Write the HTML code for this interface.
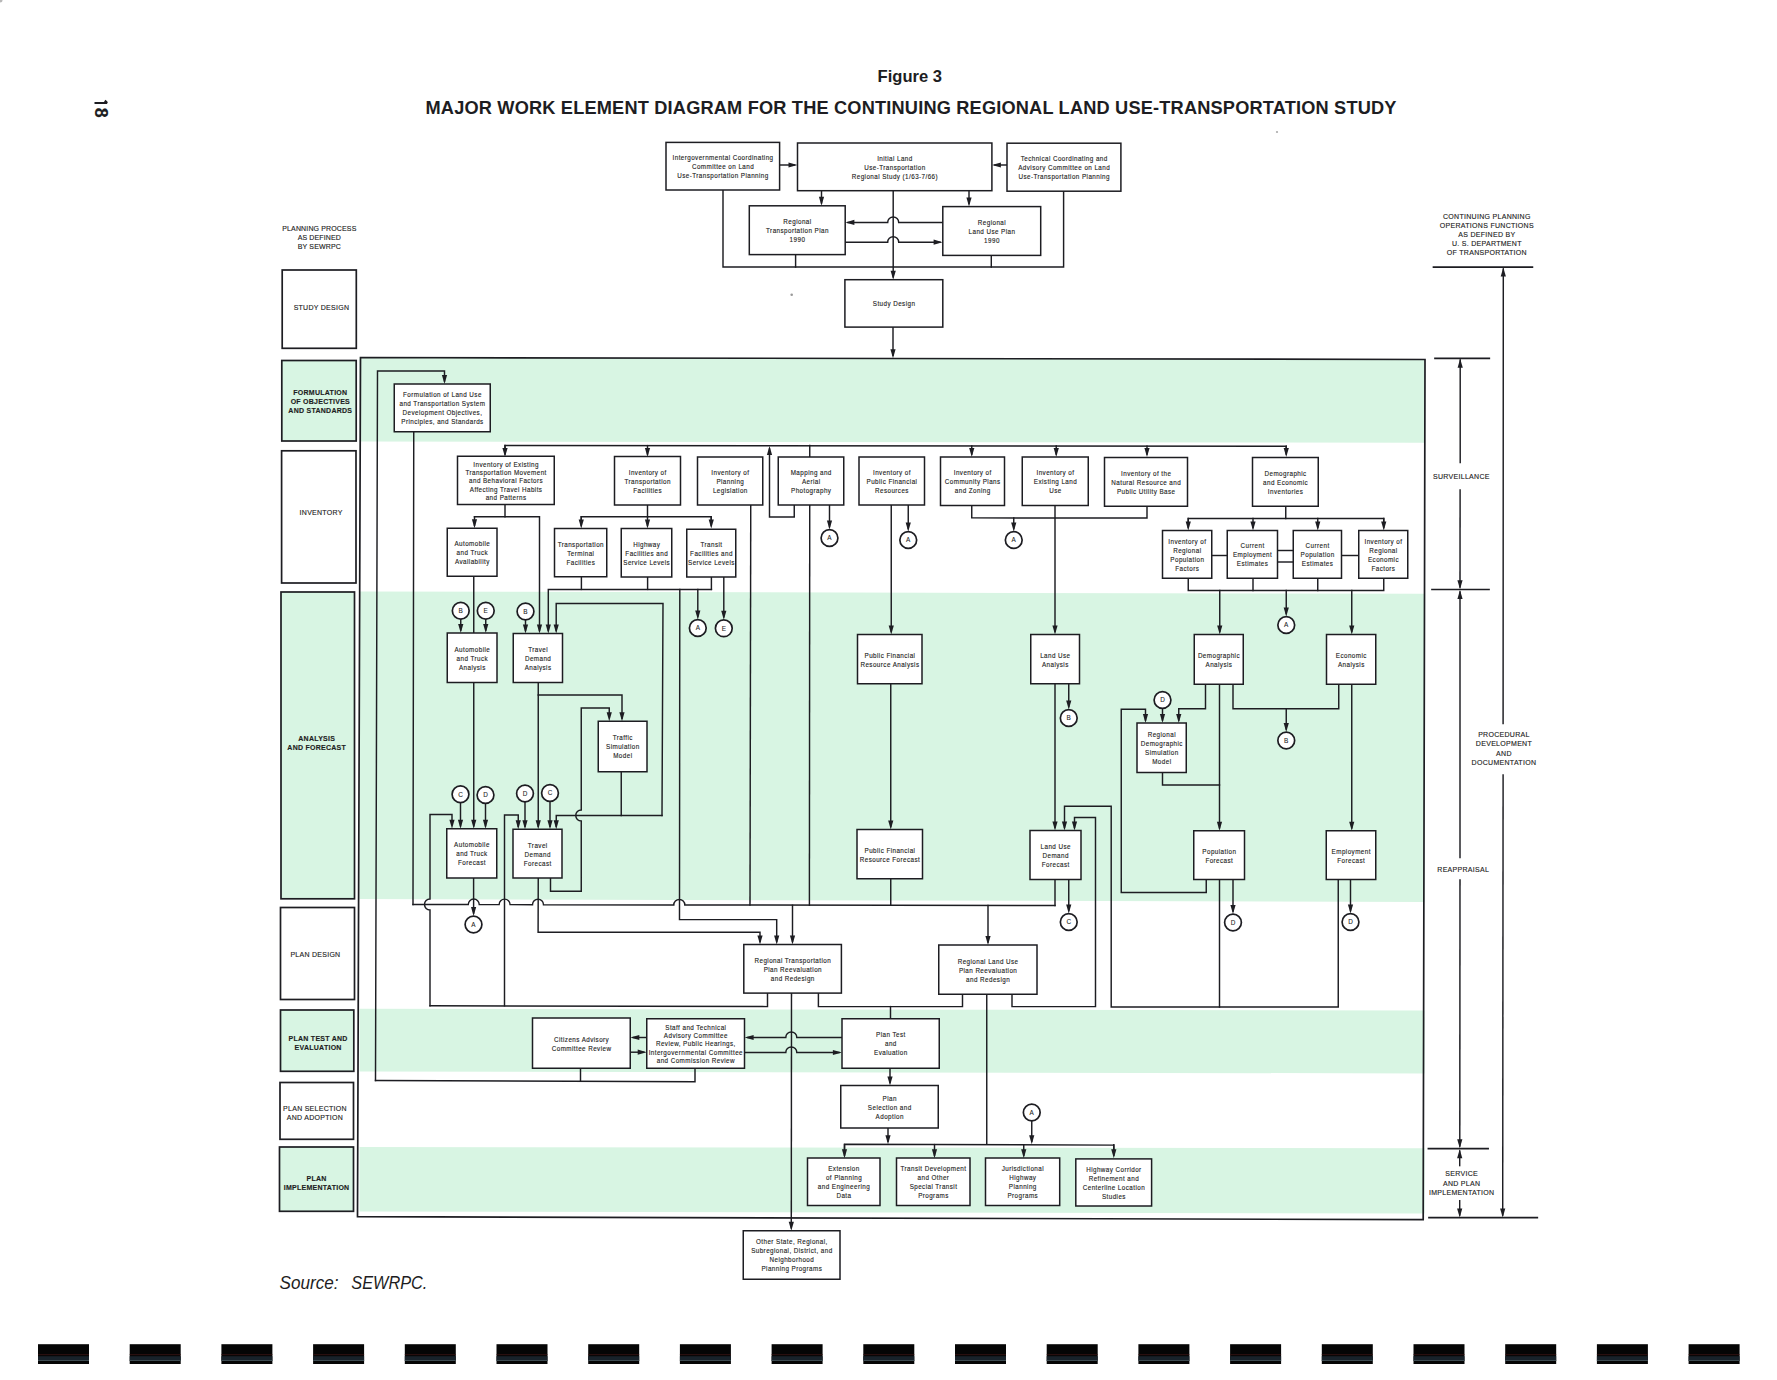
<!DOCTYPE html>
<html><head><meta charset="utf-8"><title>Figure 3</title>
<style>html,body{margin:0;padding:0;background:#fff;}svg{display:block;}
text{font-family:"Liberation Sans", sans-serif;stroke:#1d1d22;stroke-width:0.13px;}
text.ns{stroke:none;}</style></head>
<body>
<svg width="1777" height="1380" viewBox="0 0 1777 1380" font-family="Liberation Sans, sans-serif" fill="#1d1d22">
<rect width="1777" height="1380" fill="#fff"/>
<circle cx="0" cy="0" r="2.5" fill="#888" opacity="0.6"/>
<circle cx="791.7" cy="294.8" r="1.3" fill="#999"/>
<circle cx="1277" cy="132" r="1.1" fill="#aaa"/>
<path d="M94.5 103 L107.2 103 M107.2 103 L104.8 100.6" stroke="#1d1d22" stroke-width="2.2" fill="none"/>
<text x="0" y="0" font-size="18" font-weight="bold" transform="translate(95.3,112.8) rotate(90)" text-anchor="middle">8</text>
<text x="877.6" y="82.3" class="ns" font-size="16.6" font-weight="bold" textLength="64.4" lengthAdjust="spacingAndGlyphs">Figure 3</text>
<text x="425.5" y="113.9" class="ns" font-size="18.2" font-weight="bold" textLength="971" lengthAdjust="spacing">MAJOR WORK ELEMENT DIAGRAM FOR THE CONTINUING REGIONAL LAND USE-TRANSPORTATION STUDY</text>
<path d="M359.5 357.5 L1424.5 359.5 L1424.5 442.8 L359.5 441.5 Z" fill="#d8f5e3"/>
<path d="M359.5 591.5 L1424.5 593.8 L1424.5 902 L359.5 899 Z" fill="#d8f5e3"/>
<path d="M359.5 1008.8 L1424.5 1010.5 L1424.5 1073.4 L359.5 1071.5 Z" fill="#d8f5e3"/>
<path d="M359.5 1147 L1424.5 1148.3 L1424.5 1213.5 L359.5 1211.5 Z" fill="#d8f5e3"/>
<path d="M360.5 357.5 L1425 359.5 L1423.2 1219.7 L357.5 1216.6 Z" fill="none" stroke="#1d1d22" stroke-width="1.7"/>
<text x="319.37" y="231.22" font-size="7" letter-spacing="0.14" text-anchor="middle">PLANNING PROCESS</text>
<text x="319.37" y="240.22" font-size="7" letter-spacing="0.14" text-anchor="middle">AS DEFINED</text>
<text x="319.37" y="249.22" font-size="7" letter-spacing="0.14" text-anchor="middle">BY SEWRPC</text>
<rect x="282.2" y="270" width="74.1" height="78.3" fill="#fff" stroke="#1d1d22" stroke-width="1.7"/>
<text x="321.44" y="309.62" font-size="7" letter-spacing="0.27" text-anchor="middle">STUDY DESIGN</text>
<rect x="281.8" y="360.5" width="74.4" height="80.5" fill="#d8f5e3" stroke="#1d1d22" stroke-width="1.7"/>
<text x="320.33" y="394.72" font-size="7" font-weight="bold" letter-spacing="0.26" text-anchor="middle">FORMULATION</text>
<text x="320.33" y="403.92" font-size="7" font-weight="bold" letter-spacing="0.26" text-anchor="middle">OF OBJECTIVES</text>
<text x="320.33" y="413.12" font-size="7" font-weight="bold" letter-spacing="0.26" text-anchor="middle">AND STANDARDS</text>
<rect x="281.6" y="450.8" width="74.4" height="132.2" fill="#fff" stroke="#1d1d22" stroke-width="1.7"/>
<text x="321.13" y="514.72" font-size="7" letter-spacing="0.27" text-anchor="middle">INVENTORY</text>
<rect x="281" y="592" width="73.5" height="306.8" fill="#d8f5e3" stroke="#1d1d22" stroke-width="1.7"/>
<text x="316.73" y="741.12" font-size="7" font-weight="bold" letter-spacing="0.26" text-anchor="middle">ANALYSIS</text>
<text x="316.73" y="750.32" font-size="7" font-weight="bold" letter-spacing="0.26" text-anchor="middle">AND FORECAST</text>
<rect x="280.5" y="907.5" width="74" height="92" fill="#fff" stroke="#1d1d22" stroke-width="1.7"/>
<text x="315.44" y="957.22" font-size="7" letter-spacing="0.27" text-anchor="middle">PLAN DESIGN</text>
<rect x="280.5" y="1010" width="73.3" height="61.3" fill="#d8f5e3" stroke="#1d1d22" stroke-width="1.7"/>
<text x="318.13" y="1040.62" font-size="7" font-weight="bold" letter-spacing="0.26" text-anchor="middle">PLAN TEST AND</text>
<text x="318.13" y="1049.82" font-size="7" font-weight="bold" letter-spacing="0.26" text-anchor="middle">EVALUATION</text>
<rect x="280" y="1082.5" width="73.5" height="56.8" fill="#fff" stroke="#1d1d22" stroke-width="1.7"/>
<text x="314.94" y="1110.82" font-size="7" letter-spacing="0.27" text-anchor="middle">PLAN SELECTION</text>
<text x="314.94" y="1120.02" font-size="7" letter-spacing="0.27" text-anchor="middle">AND ADOPTION</text>
<rect x="279.5" y="1147" width="74" height="64.3" fill="#d8f5e3" stroke="#1d1d22" stroke-width="1.7"/>
<text x="316.63" y="1180.72" font-size="7" font-weight="bold" letter-spacing="0.26" text-anchor="middle">PLAN</text>
<text x="316.63" y="1189.92" font-size="7" font-weight="bold" letter-spacing="0.26" text-anchor="middle">IMPLEMENTATION</text>
<text x="1486.85" y="219.12" font-size="7" letter-spacing="0.3" text-anchor="middle">CONTINUING PLANNING</text>
<text x="1486.85" y="228.17" font-size="7" letter-spacing="0.3" text-anchor="middle">OPERATIONS FUNCTIONS</text>
<text x="1486.85" y="237.22" font-size="7" letter-spacing="0.3" text-anchor="middle">AS DEFINED BY</text>
<text x="1486.85" y="246.27" font-size="7" letter-spacing="0.3" text-anchor="middle">U. S. DEPARTMENT</text>
<text x="1486.85" y="255.32" font-size="7" letter-spacing="0.3" text-anchor="middle">OF TRANSPORTATION</text>
<path d="M1433.5 267.2 L1532.4 267.2" fill="none" stroke="#1d1d22" stroke-width="1.7" stroke-linejoin="miter" stroke-linecap="square"/>
<path d="M1503.3 269 L1503.1 723.5" fill="none" stroke="#1d1d22" stroke-width="1.45" stroke-linejoin="miter" stroke-linecap="square"/>
<path d="M1503.1 775 L1502.7 1215" fill="none" stroke="#1d1d22" stroke-width="1.45" stroke-linejoin="miter" stroke-linecap="square"/>
<path d="M1503.3 267.5 L1500.7 276.5 L1505.9 276.5 Z" fill="#1d1d22"/>
<path d="M1502.7 1217.5 L1500.1 1208.5 L1505.3 1208.5 Z" fill="#1d1d22"/>
<text x="1503.95" y="737.37" font-size="7" letter-spacing="0.3" text-anchor="middle">PROCEDURAL</text>
<text x="1503.95" y="746.47" font-size="7" letter-spacing="0.3" text-anchor="middle">DEVELOPMENT</text>
<text x="1503.95" y="755.57" font-size="7" letter-spacing="0.3" text-anchor="middle">AND</text>
<text x="1503.95" y="764.67" font-size="7" letter-spacing="0.3" text-anchor="middle">DOCUMENTATION</text>
<path d="M1435 358.3 L1489.3 358.3" fill="none" stroke="#1d1d22" stroke-width="1.7" stroke-linejoin="miter" stroke-linecap="square"/>
<path d="M1460.2 360 L1460.2 462.5" fill="none" stroke="#1d1d22" stroke-width="1.45" stroke-linejoin="miter" stroke-linecap="square"/>
<path d="M1460.1 490 L1460 587" fill="none" stroke="#1d1d22" stroke-width="1.45" stroke-linejoin="miter" stroke-linecap="square"/>
<path d="M1460.2 358.8 L1457.6 367.8 L1462.8 367.8 Z" fill="#1d1d22"/>
<path d="M1460 589.3 L1457.4 580.3 L1462.6 580.3 Z" fill="#1d1d22"/>
<text x="1461.35" y="479.42" font-size="7" letter-spacing="0.3" text-anchor="middle">SURVEILLANCE</text>
<path d="M1432 589.5 L1489 589.5" fill="none" stroke="#1d1d22" stroke-width="1.7" stroke-linejoin="miter" stroke-linecap="square"/>
<path d="M1460 592 L1460 857.5" fill="none" stroke="#1d1d22" stroke-width="1.45" stroke-linejoin="miter" stroke-linecap="square"/>
<path d="M1460 880 L1459.8 1146" fill="none" stroke="#1d1d22" stroke-width="1.45" stroke-linejoin="miter" stroke-linecap="square"/>
<path d="M1460 590 L1457.4 599 L1462.6 599 Z" fill="#1d1d22"/>
<path d="M1459.8 1148.3 L1457.2 1139.3 L1462.4 1139.3 Z" fill="#1d1d22"/>
<text x="1463.25" y="871.62" font-size="7" letter-spacing="0.3" text-anchor="middle">REAPPRAISAL</text>
<path d="M1428.4 1148.6 L1488.1 1148.6" fill="none" stroke="#1d1d22" stroke-width="1.7" stroke-linejoin="miter" stroke-linecap="square"/>
<path d="M1459.7 1151 L1459.7 1165.6" fill="none" stroke="#1d1d22" stroke-width="1.45" stroke-linejoin="miter" stroke-linecap="square"/>
<path d="M1459.7 1200.7 L1459.7 1215" fill="none" stroke="#1d1d22" stroke-width="1.45" stroke-linejoin="miter" stroke-linecap="square"/>
<path d="M1459.7 1149.2 L1457.1 1158.2 L1462.3 1158.2 Z" fill="#1d1d22"/>
<path d="M1459.7 1217.5 L1457.1 1208.5 L1462.3 1208.5 Z" fill="#1d1d22"/>
<text x="1461.65" y="1176.47" font-size="7" letter-spacing="0.3" text-anchor="middle">SERVICE</text>
<text x="1461.65" y="1185.52" font-size="7" letter-spacing="0.3" text-anchor="middle">AND PLAN</text>
<text x="1461.65" y="1194.57" font-size="7" letter-spacing="0.3" text-anchor="middle">IMPLEMENTATION</text>
<path d="M1429 1217.7 L1537.3 1217.7" fill="none" stroke="#1d1d22" stroke-width="1.7" stroke-linejoin="miter" stroke-linecap="square"/>
<path d="M723 190 L723 267 L1063.6 267 L1063.6 191" fill="none" stroke="#1d1d22" stroke-width="1.45" stroke-linejoin="miter" stroke-linecap="square"/>
<path d="M795.6 254.6 L795.6 267" fill="none" stroke="#1d1d22" stroke-width="1.45" stroke-linejoin="miter" stroke-linecap="square"/>
<path d="M991.3 255.4 L991.3 267" fill="none" stroke="#1d1d22" stroke-width="1.45" stroke-linejoin="miter" stroke-linecap="square"/>
<path d="M779.6 165 L794.5 165" fill="none" stroke="#1d1d22" stroke-width="1.45" stroke-linejoin="miter" stroke-linecap="square"/>
<path d="M797.5 165 L788.5 162.4 L788.5 167.6 Z" fill="#1d1d22"/>
<path d="M1007 165 L994.9 165" fill="none" stroke="#1d1d22" stroke-width="1.45" stroke-linejoin="miter" stroke-linecap="square"/>
<path d="M991.9 165 L1000.9 162.4 L1000.9 167.6 Z" fill="#1d1d22"/>
<path d="M821.5 190.7 L821.5 202.8" fill="none" stroke="#1d1d22" stroke-width="1.45" stroke-linejoin="miter" stroke-linecap="square"/>
<path d="M821.5 205.8 L818.9 196.8 L824.1 196.8 Z" fill="#1d1d22"/>
<path d="M969 190.7 L969 203.6" fill="none" stroke="#1d1d22" stroke-width="1.45" stroke-linejoin="miter" stroke-linecap="square"/>
<path d="M969 206.6 L966.4 197.6 L971.6 197.6 Z" fill="#1d1d22"/>
<path d="M893.2 190.7 L893.2 276.7" fill="none" stroke="#1d1d22" stroke-width="1.45" stroke-linejoin="miter" stroke-linecap="square"/>
<path d="M893.2 279.7 L890.6 270.7 L895.8 270.7 Z" fill="#1d1d22"/>
<path d="M848 222.4 L887.7 222.4 A5.5 5.5 0 0 1 898.7 222.4 L942.8 222.4" fill="none" stroke="#1d1d22" stroke-width="1.45" stroke-linecap="square"/>
<path d="M845.4 222.4 L854.4 219.8 L854.4 225 Z" fill="#1d1d22"/>
<path d="M845.2 242.2 L887.7 242.2 A5.5 5.5 0 0 1 898.7 242.2 L940 242.2" fill="none" stroke="#1d1d22" stroke-width="1.45" stroke-linecap="square"/>
<path d="M942.6 242.2 L933.6 239.6 L933.6 244.8 Z" fill="#1d1d22"/>
<path d="M893 327.1 L893 355.3" fill="none" stroke="#1d1d22" stroke-width="1.45" stroke-linejoin="miter" stroke-linecap="square"/>
<path d="M893 358.3 L890.4 349.3 L895.6 349.3 Z" fill="#1d1d22"/>
<rect x="666" y="142.4" width="113.6" height="47.6" fill="#fff" stroke="#1d1d22" stroke-width="1.5"/>
<text transform="translate(723.01 160.12) scale(0.9 1)" font-size="7" letter-spacing="0.48" text-anchor="middle">Intergovernmental Coordinating</text>
<text transform="translate(723.01 169.12) scale(0.9 1)" font-size="7" letter-spacing="0.48" text-anchor="middle">Committee on Land</text>
<text transform="translate(723.01 178.12) scale(0.9 1)" font-size="7" letter-spacing="0.48" text-anchor="middle">Use-Transportation Planning</text>
<rect x="797.5" y="143" width="194.4" height="47.7" fill="#fff" stroke="#1d1d22" stroke-width="1.5"/>
<text transform="translate(894.92 160.77) scale(0.9 1)" font-size="7" letter-spacing="0.48" text-anchor="middle">Initial Land</text>
<text transform="translate(894.92 169.77) scale(0.9 1)" font-size="7" letter-spacing="0.48" text-anchor="middle">Use-Transportation</text>
<text transform="translate(894.92 178.77) scale(0.9 1)" font-size="7" letter-spacing="0.48" text-anchor="middle">Regional Study (1/63-7/66)</text>
<rect x="1007" y="143.2" width="113.9" height="48" fill="#fff" stroke="#1d1d22" stroke-width="1.5"/>
<text transform="translate(1064.16 161.12) scale(0.9 1)" font-size="7" letter-spacing="0.48" text-anchor="middle">Technical Coordinating and</text>
<text transform="translate(1064.16 170.12) scale(0.9 1)" font-size="7" letter-spacing="0.48" text-anchor="middle">Advisory Committee on Land</text>
<text transform="translate(1064.16 179.12) scale(0.9 1)" font-size="7" letter-spacing="0.48" text-anchor="middle">Use-Transportation Planning</text>
<rect x="749.3" y="205.8" width="95.9" height="48.8" fill="#fff" stroke="#1d1d22" stroke-width="1.5"/>
<text transform="translate(797.47 224.12) scale(0.9 1)" font-size="7" letter-spacing="0.48" text-anchor="middle">Regional</text>
<text transform="translate(797.47 233.12) scale(0.9 1)" font-size="7" letter-spacing="0.48" text-anchor="middle">Transportation Plan</text>
<text transform="translate(797.47 242.12) scale(0.9 1)" font-size="7" letter-spacing="0.48" text-anchor="middle">1990</text>
<rect x="942.8" y="206.6" width="97.9" height="48.8" fill="#fff" stroke="#1d1d22" stroke-width="1.5"/>
<text transform="translate(991.97 224.92) scale(0.9 1)" font-size="7" letter-spacing="0.48" text-anchor="middle">Regional</text>
<text transform="translate(991.97 233.92) scale(0.9 1)" font-size="7" letter-spacing="0.48" text-anchor="middle">Land Use Plan</text>
<text transform="translate(991.97 242.92) scale(0.9 1)" font-size="7" letter-spacing="0.48" text-anchor="middle">1990</text>
<rect x="844.9" y="279.7" width="97.9" height="47.4" fill="#fff" stroke="#1d1d22" stroke-width="1.5"/>
<text transform="translate(894.06 306.32) scale(0.9 1)" font-size="7" letter-spacing="0.48" text-anchor="middle">Study Design</text>
<path d="M375.5 1080.5 L377.5 371 L444.5 371 L444.5 381" fill="none" stroke="#1d1d22" stroke-width="1.45" stroke-linejoin="miter" stroke-linecap="square"/>
<path d="M444.5 384 L441.9 375 L447.1 375 Z" fill="#1d1d22"/>
<path d="M375.5 1080.5 L695 1081.7 L695 1068.3" fill="none" stroke="#1d1d22" stroke-width="1.45" stroke-linejoin="miter" stroke-linecap="square"/>
<path d="M580.5 1081 L580.5 1068.3" fill="none" stroke="#1d1d22" stroke-width="1.45" stroke-linejoin="miter" stroke-linecap="square"/>
<path d="M413.75 431.75 L413 904.5" fill="none" stroke="#1d1d22" stroke-width="1.45" stroke-linejoin="miter" stroke-linecap="square"/>
<path d="M413 904.5 L468.25 904.59 A5.5 5.5 0 0 1 479.25 904.59 L499.1 904.64 A5.5 5.5 0 0 1 510.1 904.64 L532.5 904.69 A5.5 5.5 0 0 1 543.5 904.69 L673.8 904.91 A5.5 5.5 0 0 1 684.8 904.91 L1055 905.5" fill="none" stroke="#1d1d22" stroke-width="1.45" stroke-linecap="square"/>
<path d="M1055 879.5 L1055 905.5" fill="none" stroke="#1d1d22" stroke-width="1.45" stroke-linejoin="miter" stroke-linecap="square"/>
<path d="M792.5 905.3 L792.5 941.5" fill="none" stroke="#1d1d22" stroke-width="1.45" stroke-linejoin="miter" stroke-linecap="square"/>
<path d="M792.5 944.5 L789.9 935.5 L795.1 935.5 Z" fill="#1d1d22"/>
<path d="M988 905.5 L988 942" fill="none" stroke="#1d1d22" stroke-width="1.45" stroke-linejoin="miter" stroke-linecap="square"/>
<path d="M988 945 L985.4 936 L990.6 936 Z" fill="#1d1d22"/>
<path d="M505 450 L505 445.5 L1286.25 446.3 L1286.25 450" fill="none" stroke="#1d1d22" stroke-width="1.45" stroke-linejoin="miter" stroke-linecap="square"/>
<path d="M505 445.5 L505 454" fill="none" stroke="#1d1d22" stroke-width="1.45" stroke-linejoin="miter" stroke-linecap="square"/>
<path d="M505 457 L502.4 448 L507.6 448 Z" fill="#1d1d22"/>
<path d="M647.5 445.65 L647.5 454" fill="none" stroke="#1d1d22" stroke-width="1.45" stroke-linejoin="miter" stroke-linecap="square"/>
<path d="M647.5 457 L644.9 448 L650.1 448 Z" fill="#1d1d22"/>
<path d="M971.75 445.98 L971.75 454" fill="none" stroke="#1d1d22" stroke-width="1.45" stroke-linejoin="miter" stroke-linecap="square"/>
<path d="M971.75 457 L969.15 448 L974.35 448 Z" fill="#1d1d22"/>
<path d="M1056.25 446.06 L1056.25 454" fill="none" stroke="#1d1d22" stroke-width="1.45" stroke-linejoin="miter" stroke-linecap="square"/>
<path d="M1056.25 457 L1053.65 448 L1058.85 448 Z" fill="#1d1d22"/>
<path d="M1147 446.16 L1147 454" fill="none" stroke="#1d1d22" stroke-width="1.45" stroke-linejoin="miter" stroke-linecap="square"/>
<path d="M1147 457 L1144.4 448 L1149.6 448 Z" fill="#1d1d22"/>
<path d="M1286.25 446.3 L1286.25 454" fill="none" stroke="#1d1d22" stroke-width="1.45" stroke-linejoin="miter" stroke-linecap="square"/>
<path d="M1286.25 457 L1283.65 448 L1288.85 448 Z" fill="#1d1d22"/>
<path d="M809.75 445.5 L809.75 457" fill="none" stroke="#1d1d22" stroke-width="1.45" stroke-linejoin="miter" stroke-linecap="square"/>
<path d="M794.25 505 L794.25 517 L769.5 517 L769.5 449" fill="none" stroke="#1d1d22" stroke-width="1.45" stroke-linejoin="miter" stroke-linecap="square"/>
<path d="M769.5 446 L766.9 455 L772.1 455 Z" fill="#1d1d22"/>
<path d="M505 504.5 L505 516.75" fill="none" stroke="#1d1d22" stroke-width="1.45" stroke-linejoin="miter" stroke-linecap="square"/>
<path d="M474.5 516.75 L474.5 525.25" fill="none" stroke="#1d1d22" stroke-width="1.45" stroke-linejoin="miter" stroke-linecap="square"/>
<path d="M474.5 528.25 L471.9 519.25 L477.1 519.25 Z" fill="#1d1d22"/>
<path d="M474.5 516.75 L539.5 516.75 L539.5 630.5" fill="none" stroke="#1d1d22" stroke-width="1.45" stroke-linejoin="miter" stroke-linecap="square"/>
<path d="M539.5 633.5 L536.9 624.5 L542.1 624.5 Z" fill="#1d1d22"/>
<path d="M473.75 576.25 L473.75 633" fill="none" stroke="#1d1d22" stroke-width="1.45" stroke-linejoin="miter" stroke-linecap="square"/>
<path d="M647.5 505 L647.5 516.75" fill="none" stroke="#1d1d22" stroke-width="1.45" stroke-linejoin="miter" stroke-linecap="square"/>
<path d="M581.25 520 L581.25 516.75 L711.25 516.75 L711.25 520" fill="none" stroke="#1d1d22" stroke-width="1.45" stroke-linejoin="miter" stroke-linecap="square"/>
<path d="M581.25 516.75 L581.25 525.5" fill="none" stroke="#1d1d22" stroke-width="1.45" stroke-linejoin="miter" stroke-linecap="square"/>
<path d="M581.25 528.5 L578.65 519.5 L583.85 519.5 Z" fill="#1d1d22"/>
<path d="M647.5 516.75 L647.5 525.5" fill="none" stroke="#1d1d22" stroke-width="1.45" stroke-linejoin="miter" stroke-linecap="square"/>
<path d="M647.5 528.5 L644.9 519.5 L650.1 519.5 Z" fill="#1d1d22"/>
<path d="M711.25 516.75 L711.25 525.5" fill="none" stroke="#1d1d22" stroke-width="1.45" stroke-linejoin="miter" stroke-linecap="square"/>
<path d="M711.25 528.5 L708.65 519.5 L713.85 519.5 Z" fill="#1d1d22"/>
<path d="M581.4 576.75 L581.4 589.4" fill="none" stroke="#1d1d22" stroke-width="1.45" stroke-linejoin="miter" stroke-linecap="square"/>
<path d="M647.6 577 L647.6 589.4" fill="none" stroke="#1d1d22" stroke-width="1.45" stroke-linejoin="miter" stroke-linecap="square"/>
<path d="M711.4 577 L711.4 589.4" fill="none" stroke="#1d1d22" stroke-width="1.45" stroke-linejoin="miter" stroke-linecap="square"/>
<path d="M711.4 589.4 L548.3 589.4 L548.3 630.5" fill="none" stroke="#1d1d22" stroke-width="1.45" stroke-linejoin="miter" stroke-linecap="square"/>
<path d="M548.3 633.5 L545.7 624.5 L550.9 624.5 Z" fill="#1d1d22"/>
<path d="M697.8 589.4 L697.8 616.6" fill="none" stroke="#1d1d22" stroke-width="1.45" stroke-linejoin="miter" stroke-linecap="square"/>
<path d="M697.8 619.6 L695.2 610.6 L700.4 610.6 Z" fill="#1d1d22"/>
<path d="M723.8 577 L723.8 616.8" fill="none" stroke="#1d1d22" stroke-width="1.45" stroke-linejoin="miter" stroke-linecap="square"/>
<path d="M723.8 619.8 L721.2 610.8 L726.4 610.8 Z" fill="#1d1d22"/>
<path d="M679.8 589.4 L679.5 919.6 L776.7 919.6 L776.7 941.5" fill="none" stroke="#1d1d22" stroke-width="1.45" stroke-linejoin="miter" stroke-linecap="square"/>
<path d="M776.7 944.5 L774.1 935.5 L779.3 935.5 Z" fill="#1d1d22"/>
<path d="M662 815.5 L663 603.4 L556.2 603.4 L556.2 630.5" fill="none" stroke="#1d1d22" stroke-width="1.45" stroke-linejoin="miter" stroke-linecap="square"/>
<path d="M556.2 633.5 L553.6 624.5 L558.8 624.5 Z" fill="#1d1d22"/>
<path d="M662 815.5 L556.25 815.5 L556.25 826.25" fill="none" stroke="#1d1d22" stroke-width="1.45" stroke-linejoin="miter" stroke-linecap="square"/>
<path d="M556.25 829.25 L553.65 820.25 L558.85 820.25 Z" fill="#1d1d22"/>
<path d="M550.5 878 L550.5 891.25 L581.25 891.25 L581.25 821 A5.5 5.5 0 0 1 581.25 810 L581.25 708 L609.25 708 L609.25 716" fill="none" stroke="#1d1d22" stroke-width="1.45" stroke-linecap="square"/>
<path d="M609.25 721.25 L606.65 712.25 L611.85 712.25 Z" fill="#1d1d22"/>
<path d="M538.25 682.5 L538.25 826.25" fill="none" stroke="#1d1d22" stroke-width="1.45" stroke-linejoin="miter" stroke-linecap="square"/>
<path d="M538.25 829.25 L535.65 820.25 L540.85 820.25 Z" fill="#1d1d22"/>
<path d="M538.25 695 L622 695 L622 718.25" fill="none" stroke="#1d1d22" stroke-width="1.45" stroke-linejoin="miter" stroke-linecap="square"/>
<path d="M622 721.25 L619.4 712.25 L624.6 712.25 Z" fill="#1d1d22"/>
<path d="M621.25 771.75 L621.25 815.5" fill="none" stroke="#1d1d22" stroke-width="1.45" stroke-linejoin="miter" stroke-linecap="square"/>
<path d="M460.75 619.2 L460.75 630" fill="none" stroke="#1d1d22" stroke-width="1.45" stroke-linejoin="miter" stroke-linecap="square"/>
<path d="M460.75 633 L458.15 624 L463.35 624 Z" fill="#1d1d22"/>
<path d="M485.75 619.2 L485.75 630" fill="none" stroke="#1d1d22" stroke-width="1.45" stroke-linejoin="miter" stroke-linecap="square"/>
<path d="M485.75 633 L483.15 624 L488.35 624 Z" fill="#1d1d22"/>
<path d="M525.5 620 L525.5 630.5" fill="none" stroke="#1d1d22" stroke-width="1.45" stroke-linejoin="miter" stroke-linecap="square"/>
<path d="M525.5 633.5 L522.9 624.5 L528.1 624.5 Z" fill="#1d1d22"/>
<path d="M473.75 682.5 L473.75 825.75" fill="none" stroke="#1d1d22" stroke-width="1.45" stroke-linejoin="miter" stroke-linecap="square"/>
<path d="M473.75 828.75 L471.15 819.75 L476.35 819.75 Z" fill="#1d1d22"/>
<path d="M460.5 802.7 L460.5 825.75" fill="none" stroke="#1d1d22" stroke-width="1.45" stroke-linejoin="miter" stroke-linecap="square"/>
<path d="M460.5 828.75 L457.9 819.75 L463.1 819.75 Z" fill="#1d1d22"/>
<path d="M485.5 803.4 L485.5 825.75" fill="none" stroke="#1d1d22" stroke-width="1.45" stroke-linejoin="miter" stroke-linecap="square"/>
<path d="M485.5 828.75 L482.9 819.75 L488.1 819.75 Z" fill="#1d1d22"/>
<path d="M525 802 L525 826.25" fill="none" stroke="#1d1d22" stroke-width="1.45" stroke-linejoin="miter" stroke-linecap="square"/>
<path d="M525 829.25 L522.4 820.25 L527.6 820.25 Z" fill="#1d1d22"/>
<path d="M550 801.4 L550 826.25" fill="none" stroke="#1d1d22" stroke-width="1.45" stroke-linejoin="miter" stroke-linecap="square"/>
<path d="M550 829.25 L547.4 820.25 L552.6 820.25 Z" fill="#1d1d22"/>
<path d="M430 1005.8 L430 910 A5.5 5.5 0 0 1 430 899 L430 814.5 L452 814.5 L452 823" fill="none" stroke="#1d1d22" stroke-width="1.45" stroke-linecap="square"/>
<path d="M452 828.75 L449.4 819.75 L454.6 819.75 Z" fill="#1d1d22"/>
<path d="M473.6 878 L473.6 913" fill="none" stroke="#1d1d22" stroke-width="1.45" stroke-linejoin="miter" stroke-linecap="square"/>
<path d="M473.6 916 L471 907 L476.2 907 Z" fill="#1d1d22"/>
<path d="M504.5 1005.8 L504.5 815 L518.25 815 L518.25 826.25" fill="none" stroke="#1d1d22" stroke-width="1.45" stroke-linejoin="miter" stroke-linecap="square"/>
<path d="M518.25 829.25 L515.65 820.25 L520.85 820.25 Z" fill="#1d1d22"/>
<path d="M538.25 878 L538.1 932.3 L760 932.3 L760 941.5" fill="none" stroke="#1d1d22" stroke-width="1.45" stroke-linejoin="miter" stroke-linecap="square"/>
<path d="M760 944.5 L757.4 935.5 L762.6 935.5 Z" fill="#1d1d22"/>
<path d="M430 1005.8 L767.5 1006.6 L767.5 993.1" fill="none" stroke="#1d1d22" stroke-width="1.45" stroke-linejoin="miter" stroke-linecap="square"/>
<path d="M818.4 993.1 L818.4 1006.6 L962.5 1006.6 L962.5 994.2" fill="none" stroke="#1d1d22" stroke-width="1.45" stroke-linejoin="miter" stroke-linecap="square"/>
<path d="M890.5 1006.6 L890.5 1018.7" fill="none" stroke="#1d1d22" stroke-width="1.45" stroke-linejoin="miter" stroke-linecap="square"/>
<path d="M791.5 993.1 L791.3 1227.7" fill="none" stroke="#1d1d22" stroke-width="1.45" stroke-linejoin="miter" stroke-linecap="square"/>
<path d="M791.3 1230.7 L788.7 1221.7 L793.9 1221.7 Z" fill="#1d1d22"/>
<path d="M986.75 994.2 L986.75 1144.3" fill="none" stroke="#1d1d22" stroke-width="1.45" stroke-linejoin="miter" stroke-linecap="square"/>
<path d="M1012 994.2 L1012 1006.6 L1095.5 1006.6 L1095.5 817.5 L1074.5 817.5 L1074.5 827.5" fill="none" stroke="#1d1d22" stroke-width="1.45" stroke-linejoin="miter" stroke-linecap="square"/>
<path d="M1074.5 830.5 L1071.9 821.5 L1077.1 821.5 Z" fill="#1d1d22"/>
<path d="M748 1037.5 L785.8 1037.5 A5.5 5.5 0 0 1 796.8 1037.5 L842 1037.5" fill="none" stroke="#1d1d22" stroke-width="1.45" stroke-linecap="square"/>
<path d="M744.6 1037.5 L753.6 1034.9 L753.6 1040.1 Z" fill="#1d1d22"/>
<path d="M744.5 1052.5 L785.8 1052.5 A5.5 5.5 0 0 1 796.8 1052.5 L839 1052.5" fill="none" stroke="#1d1d22" stroke-width="1.45" stroke-linecap="square"/>
<path d="M841.9 1052.5 L832.9 1049.9 L832.9 1055.1 Z" fill="#1d1d22"/>
<path d="M646.75 1037.5 L633.3 1037.5" fill="none" stroke="#1d1d22" stroke-width="1.45" stroke-linejoin="miter" stroke-linecap="square"/>
<path d="M630.3 1037.5 L639.3 1034.9 L639.3 1040.1 Z" fill="#1d1d22"/>
<path d="M630.25 1052.2 L643.7 1052.2" fill="none" stroke="#1d1d22" stroke-width="1.45" stroke-linejoin="miter" stroke-linecap="square"/>
<path d="M646.7 1052.2 L637.7 1049.6 L637.7 1054.8 Z" fill="#1d1d22"/>
<path d="M890 1068.3 L890 1082.5" fill="none" stroke="#1d1d22" stroke-width="1.45" stroke-linejoin="miter" stroke-linecap="square"/>
<path d="M890 1085.5 L887.4 1076.5 L892.6 1076.5 Z" fill="#1d1d22"/>
<path d="M888 1128 L888 1141.3" fill="none" stroke="#1d1d22" stroke-width="1.45" stroke-linejoin="miter" stroke-linecap="square"/>
<path d="M888 1144.3 L885.4 1135.3 L890.6 1135.3 Z" fill="#1d1d22"/>
<path d="M844.5 1150 L844.5 1144.3 L1113.8 1145.1 L1113.8 1150" fill="none" stroke="#1d1d22" stroke-width="1.45" stroke-linejoin="miter" stroke-linecap="square"/>
<path d="M844.5 1144.6 L844.5 1155.2" fill="none" stroke="#1d1d22" stroke-width="1.45" stroke-linejoin="miter" stroke-linecap="square"/>
<path d="M844.5 1158.2 L841.9 1149.2 L847.1 1149.2 Z" fill="#1d1d22"/>
<path d="M934.5 1144.6 L934.5 1155.2" fill="none" stroke="#1d1d22" stroke-width="1.45" stroke-linejoin="miter" stroke-linecap="square"/>
<path d="M934.5 1158.2 L931.9 1149.2 L937.1 1149.2 Z" fill="#1d1d22"/>
<path d="M1023.75 1144.6 L1023.75 1155.2" fill="none" stroke="#1d1d22" stroke-width="1.45" stroke-linejoin="miter" stroke-linecap="square"/>
<path d="M1023.75 1158.2 L1021.15 1149.2 L1026.35 1149.2 Z" fill="#1d1d22"/>
<path d="M1113.8 1144.6 L1113.8 1155.2" fill="none" stroke="#1d1d22" stroke-width="1.45" stroke-linejoin="miter" stroke-linecap="square"/>
<path d="M1113.8 1158.2 L1111.2 1149.2 L1116.4 1149.2 Z" fill="#1d1d22"/>
<path d="M1031.75 1121 L1031.75 1141.3" fill="none" stroke="#1d1d22" stroke-width="1.45" stroke-linejoin="miter" stroke-linecap="square"/>
<path d="M1031.75 1144.3 L1029.15 1135.3 L1034.35 1135.3 Z" fill="#1d1d22"/>
<path d="M891.25 505 L891.25 631.5" fill="none" stroke="#1d1d22" stroke-width="1.45" stroke-linejoin="miter" stroke-linecap="square"/>
<path d="M891.25 634.5 L888.65 625.5 L893.85 625.5 Z" fill="#1d1d22"/>
<path d="M908.25 505 L908.25 528.6" fill="none" stroke="#1d1d22" stroke-width="1.45" stroke-linejoin="miter" stroke-linecap="square"/>
<path d="M908.25 531.6 L905.65 522.6 L910.85 522.6 Z" fill="#1d1d22"/>
<path d="M890.75 683.75 L890.75 826.5" fill="none" stroke="#1d1d22" stroke-width="1.45" stroke-linejoin="miter" stroke-linecap="square"/>
<path d="M890.75 829.5 L888.15 820.5 L893.35 820.5 Z" fill="#1d1d22"/>
<path d="M890.75 878.75 L890.75 905.3" fill="none" stroke="#1d1d22" stroke-width="1.45" stroke-linejoin="miter" stroke-linecap="square"/>
<path d="M809.75 505 L809.4 905.2" fill="none" stroke="#1d1d22" stroke-width="1.45" stroke-linejoin="miter" stroke-linecap="square"/>
<path d="M829.5 505 L829.5 526.6" fill="none" stroke="#1d1d22" stroke-width="1.45" stroke-linejoin="miter" stroke-linecap="square"/>
<path d="M829.5 529.6 L826.9 520.6 L832.1 520.6 Z" fill="#1d1d22"/>
<path d="M750.75 505 L750 905.1" fill="none" stroke="#1d1d22" stroke-width="1.45" stroke-linejoin="miter" stroke-linecap="square"/>
<path d="M971.75 505.5 L971.75 517.9 L1147 518 L1147 506.2" fill="none" stroke="#1d1d22" stroke-width="1.45" stroke-linejoin="miter" stroke-linecap="square"/>
<path d="M1013.75 517.9 L1013.75 528.6" fill="none" stroke="#1d1d22" stroke-width="1.45" stroke-linejoin="miter" stroke-linecap="square"/>
<path d="M1013.75 531.6 L1011.15 522.6 L1016.35 522.6 Z" fill="#1d1d22"/>
<path d="M1055 505.5 L1055 631.5" fill="none" stroke="#1d1d22" stroke-width="1.45" stroke-linejoin="miter" stroke-linecap="square"/>
<path d="M1055 634.5 L1052.4 625.5 L1057.6 625.5 Z" fill="#1d1d22"/>
<path d="M1055 683.75 L1055 827.5" fill="none" stroke="#1d1d22" stroke-width="1.45" stroke-linejoin="miter" stroke-linecap="square"/>
<path d="M1055 830.5 L1052.4 821.5 L1057.6 821.5 Z" fill="#1d1d22"/>
<path d="M1068.75 683.75 L1068.75 706.6" fill="none" stroke="#1d1d22" stroke-width="1.45" stroke-linejoin="miter" stroke-linecap="square"/>
<path d="M1068.75 709.6 L1066.15 700.6 L1071.35 700.6 Z" fill="#1d1d22"/>
<path d="M1068.75 879.5 L1068.75 910.6" fill="none" stroke="#1d1d22" stroke-width="1.45" stroke-linejoin="miter" stroke-linecap="square"/>
<path d="M1068.75 913.6 L1066.15 904.6 L1071.35 904.6 Z" fill="#1d1d22"/>
<path d="M1338.25 879.5 L1338.25 1007 L1111.2 1007 L1111.2 806.25 L1064.5 806.25 L1064.5 827.5" fill="none" stroke="#1d1d22" stroke-width="1.45" stroke-linejoin="miter" stroke-linecap="square"/>
<path d="M1064.5 830.5 L1061.9 821.5 L1067.1 821.5 Z" fill="#1d1d22"/>
<path d="M1219.5 879.5 L1219.5 1007" fill="none" stroke="#1d1d22" stroke-width="1.45" stroke-linejoin="miter" stroke-linecap="square"/>
<path d="M1285.75 506.2 L1285.75 518.5" fill="none" stroke="#1d1d22" stroke-width="1.45" stroke-linejoin="miter" stroke-linecap="square"/>
<path d="M1188.25 522 L1188.25 518.5 L1383.75 518.5 L1383.75 522" fill="none" stroke="#1d1d22" stroke-width="1.45" stroke-linejoin="miter" stroke-linecap="square"/>
<path d="M1188.25 518.5 L1188.25 527.5" fill="none" stroke="#1d1d22" stroke-width="1.45" stroke-linejoin="miter" stroke-linecap="square"/>
<path d="M1188.25 530.5 L1185.65 521.5 L1190.85 521.5 Z" fill="#1d1d22"/>
<path d="M1253 518.5 L1253 527.5" fill="none" stroke="#1d1d22" stroke-width="1.45" stroke-linejoin="miter" stroke-linecap="square"/>
<path d="M1253 530.5 L1250.4 521.5 L1255.6 521.5 Z" fill="#1d1d22"/>
<path d="M1317.75 518.5 L1317.75 527.5" fill="none" stroke="#1d1d22" stroke-width="1.45" stroke-linejoin="miter" stroke-linecap="square"/>
<path d="M1317.75 530.5 L1315.15 521.5 L1320.35 521.5 Z" fill="#1d1d22"/>
<path d="M1383.75 518.5 L1383.75 527.5" fill="none" stroke="#1d1d22" stroke-width="1.45" stroke-linejoin="miter" stroke-linecap="square"/>
<path d="M1383.75 530.5 L1381.15 521.5 L1386.35 521.5 Z" fill="#1d1d22"/>
<path d="M1211.75 555.5 L1227.25 555.5" fill="none" stroke="#1d1d22" stroke-width="1.45" stroke-linejoin="miter" stroke-linecap="square"/>
<path d="M1277.5 550.5 L1293.25 550.5" fill="none" stroke="#1d1d22" stroke-width="1.45" stroke-linejoin="miter" stroke-linecap="square"/>
<path d="M1277.5 562 L1293.25 562" fill="none" stroke="#1d1d22" stroke-width="1.45" stroke-linejoin="miter" stroke-linecap="square"/>
<path d="M1341.5 555.5 L1358.75 555.5" fill="none" stroke="#1d1d22" stroke-width="1.45" stroke-linejoin="miter" stroke-linecap="square"/>
<path d="M1188.25 578.2 L1188.25 590.5 L1383.75 590.5 L1383.75 578.2" fill="none" stroke="#1d1d22" stroke-width="1.45" stroke-linejoin="miter" stroke-linecap="square"/>
<path d="M1253 578.2 L1253 590.5" fill="none" stroke="#1d1d22" stroke-width="1.45" stroke-linejoin="miter" stroke-linecap="square"/>
<path d="M1317.75 578.2 L1317.75 590.5" fill="none" stroke="#1d1d22" stroke-width="1.45" stroke-linejoin="miter" stroke-linecap="square"/>
<path d="M1219.75 590.5 L1219.75 631.5" fill="none" stroke="#1d1d22" stroke-width="1.45" stroke-linejoin="miter" stroke-linecap="square"/>
<path d="M1219.75 634.5 L1217.15 625.5 L1222.35 625.5 Z" fill="#1d1d22"/>
<path d="M1286.25 590.5 L1286.25 613.6" fill="none" stroke="#1d1d22" stroke-width="1.45" stroke-linejoin="miter" stroke-linecap="square"/>
<path d="M1286.25 616.6 L1283.65 607.6 L1288.85 607.6 Z" fill="#1d1d22"/>
<path d="M1351.75 590.5 L1351.75 631.5" fill="none" stroke="#1d1d22" stroke-width="1.45" stroke-linejoin="miter" stroke-linecap="square"/>
<path d="M1351.75 634.5 L1349.15 625.5 L1354.35 625.5 Z" fill="#1d1d22"/>
<path d="M1205.5 684.2 L1205.5 708.75 L1178.75 708.75 L1178.75 720" fill="none" stroke="#1d1d22" stroke-width="1.45" stroke-linejoin="miter" stroke-linecap="square"/>
<path d="M1178.75 723 L1176.15 714 L1181.35 714 Z" fill="#1d1d22"/>
<path d="M1219.5 684.2 L1219.5 827.75" fill="none" stroke="#1d1d22" stroke-width="1.45" stroke-linejoin="miter" stroke-linecap="square"/>
<path d="M1219.5 830.75 L1216.9 821.75 L1222.1 821.75 Z" fill="#1d1d22"/>
<path d="M1233 684.2 L1233 708.75 L1338.75 708.75 L1338.75 684.2" fill="none" stroke="#1d1d22" stroke-width="1.45" stroke-linejoin="miter" stroke-linecap="square"/>
<path d="M1286.25 708.75 L1286.25 729.1" fill="none" stroke="#1d1d22" stroke-width="1.45" stroke-linejoin="miter" stroke-linecap="square"/>
<path d="M1286.25 732.1 L1283.65 723.1 L1288.85 723.1 Z" fill="#1d1d22"/>
<path d="M1162.5 708.4 L1162.5 720" fill="none" stroke="#1d1d22" stroke-width="1.45" stroke-linejoin="miter" stroke-linecap="square"/>
<path d="M1162.5 723 L1159.9 714 L1165.1 714 Z" fill="#1d1d22"/>
<path d="M1206.25 879.5 L1206.25 892.5 L1121.25 892.5 L1121.25 709.25 L1145.5 709.25 L1145.5 720" fill="none" stroke="#1d1d22" stroke-width="1.45" stroke-linejoin="miter" stroke-linecap="square"/>
<path d="M1145.5 723 L1142.9 714 L1148.1 714 Z" fill="#1d1d22"/>
<path d="M1162.5 772.5 L1162.5 785 L1219.5 785" fill="none" stroke="#1d1d22" stroke-width="1.45" stroke-linejoin="miter" stroke-linecap="square"/>
<path d="M1351.75 684.2 L1351.75 827.75" fill="none" stroke="#1d1d22" stroke-width="1.45" stroke-linejoin="miter" stroke-linecap="square"/>
<path d="M1351.75 830.75 L1349.15 821.75 L1354.35 821.75 Z" fill="#1d1d22"/>
<path d="M1233 879.5 L1233 911.1" fill="none" stroke="#1d1d22" stroke-width="1.45" stroke-linejoin="miter" stroke-linecap="square"/>
<path d="M1233 914.1 L1230.4 905.1 L1235.6 905.1 Z" fill="#1d1d22"/>
<path d="M1350.5 879.5 L1350.5 910.6" fill="none" stroke="#1d1d22" stroke-width="1.45" stroke-linejoin="miter" stroke-linecap="square"/>
<path d="M1350.5 913.6 L1347.9 904.6 L1353.1 904.6 Z" fill="#1d1d22"/>
<rect x="394.25" y="384" width="96" height="47.75" fill="#fff" stroke="#1d1d22" stroke-width="1.5"/>
<text transform="translate(442.46 397.29) scale(0.9 1)" font-size="7" letter-spacing="0.48" text-anchor="middle">Formulation of Land Use</text>
<text transform="translate(442.46 406.29) scale(0.9 1)" font-size="7" letter-spacing="0.48" text-anchor="middle">and Transportation System</text>
<text transform="translate(442.46 415.29) scale(0.9 1)" font-size="7" letter-spacing="0.48" text-anchor="middle">Development Objectives,</text>
<text transform="translate(442.46 424.29) scale(0.9 1)" font-size="7" letter-spacing="0.48" text-anchor="middle">Principles, and Standards</text>
<rect x="457.5" y="456.25" width="96.75" height="48.25" fill="#fff" stroke="#1d1d22" stroke-width="1.5"/>
<text transform="translate(506.09 466.79) scale(0.9 1)" font-size="7" letter-spacing="0.48" text-anchor="middle">Inventory of Existing</text>
<text transform="translate(506.09 475.04) scale(0.9 1)" font-size="7" letter-spacing="0.48" text-anchor="middle">Transportation Movement</text>
<text transform="translate(506.09 483.29) scale(0.9 1)" font-size="7" letter-spacing="0.48" text-anchor="middle">and Behavioral Factors</text>
<text transform="translate(506.09 491.54) scale(0.9 1)" font-size="7" letter-spacing="0.48" text-anchor="middle">Affecting Travel Habits</text>
<text transform="translate(506.09 499.79) scale(0.9 1)" font-size="7" letter-spacing="0.48" text-anchor="middle">and Patterns</text>
<rect x="614.5" y="456.5" width="66" height="48.5" fill="#fff" stroke="#1d1d22" stroke-width="1.5"/>
<text transform="translate(647.72 474.67) scale(0.9 1)" font-size="7" letter-spacing="0.48" text-anchor="middle">Inventory of</text>
<text transform="translate(647.72 483.67) scale(0.9 1)" font-size="7" letter-spacing="0.48" text-anchor="middle">Transportation</text>
<text transform="translate(647.72 492.67) scale(0.9 1)" font-size="7" letter-spacing="0.48" text-anchor="middle">Facilities</text>
<rect x="697.5" y="457" width="65.25" height="48" fill="#fff" stroke="#1d1d22" stroke-width="1.5"/>
<text transform="translate(730.34 474.92) scale(0.9 1)" font-size="7" letter-spacing="0.48" text-anchor="middle">Inventory of</text>
<text transform="translate(730.34 483.92) scale(0.9 1)" font-size="7" letter-spacing="0.48" text-anchor="middle">Planning</text>
<text transform="translate(730.34 492.92) scale(0.9 1)" font-size="7" letter-spacing="0.48" text-anchor="middle">Legislation</text>
<rect x="778.25" y="457" width="65.5" height="48" fill="#fff" stroke="#1d1d22" stroke-width="1.5"/>
<text transform="translate(811.22 474.92) scale(0.9 1)" font-size="7" letter-spacing="0.48" text-anchor="middle">Mapping and</text>
<text transform="translate(811.22 483.92) scale(0.9 1)" font-size="7" letter-spacing="0.48" text-anchor="middle">Aerial</text>
<text transform="translate(811.22 492.92) scale(0.9 1)" font-size="7" letter-spacing="0.48" text-anchor="middle">Photography</text>
<rect x="859" y="457" width="65.5" height="48" fill="#fff" stroke="#1d1d22" stroke-width="1.5"/>
<text transform="translate(891.97 474.92) scale(0.9 1)" font-size="7" letter-spacing="0.48" text-anchor="middle">Inventory of</text>
<text transform="translate(891.97 483.92) scale(0.9 1)" font-size="7" letter-spacing="0.48" text-anchor="middle">Public Financial</text>
<text transform="translate(891.97 492.92) scale(0.9 1)" font-size="7" letter-spacing="0.48" text-anchor="middle">Resources</text>
<rect x="940.5" y="457" width="64" height="48.5" fill="#fff" stroke="#1d1d22" stroke-width="1.5"/>
<text transform="translate(972.72 475.17) scale(0.9 1)" font-size="7" letter-spacing="0.48" text-anchor="middle">Inventory of</text>
<text transform="translate(972.72 484.17) scale(0.9 1)" font-size="7" letter-spacing="0.48" text-anchor="middle">Community Plans</text>
<text transform="translate(972.72 493.17) scale(0.9 1)" font-size="7" letter-spacing="0.48" text-anchor="middle">and Zoning</text>
<rect x="1022.25" y="457" width="66" height="48.5" fill="#fff" stroke="#1d1d22" stroke-width="1.5"/>
<text transform="translate(1055.46 475.17) scale(0.9 1)" font-size="7" letter-spacing="0.48" text-anchor="middle">Inventory of</text>
<text transform="translate(1055.46 484.17) scale(0.9 1)" font-size="7" letter-spacing="0.48" text-anchor="middle">Existing Land</text>
<text transform="translate(1055.46 493.17) scale(0.9 1)" font-size="7" letter-spacing="0.48" text-anchor="middle">Use</text>
<rect x="1104.5" y="457.5" width="83" height="48.75" fill="#fff" stroke="#1d1d22" stroke-width="1.5"/>
<text transform="translate(1146.21 475.79) scale(0.9 1)" font-size="7" letter-spacing="0.48" text-anchor="middle">Inventory of the</text>
<text transform="translate(1146.21 484.79) scale(0.9 1)" font-size="7" letter-spacing="0.48" text-anchor="middle">Natural Resource and</text>
<text transform="translate(1146.21 493.79) scale(0.9 1)" font-size="7" letter-spacing="0.48" text-anchor="middle">Public Utility Base</text>
<rect x="1252.5" y="457.5" width="65.75" height="48.75" fill="#fff" stroke="#1d1d22" stroke-width="1.5"/>
<text transform="translate(1285.59 475.79) scale(0.9 1)" font-size="7" letter-spacing="0.48" text-anchor="middle">Demographic</text>
<text transform="translate(1285.59 484.79) scale(0.9 1)" font-size="7" letter-spacing="0.48" text-anchor="middle">and Economic</text>
<text transform="translate(1285.59 493.79) scale(0.9 1)" font-size="7" letter-spacing="0.48" text-anchor="middle">Inventories</text>
<rect x="447.25" y="528.25" width="49.75" height="48" fill="#fff" stroke="#1d1d22" stroke-width="1.5"/>
<text transform="translate(472.34 546.17) scale(0.9 1)" font-size="7" letter-spacing="0.48" text-anchor="middle">Automobile</text>
<text transform="translate(472.34 555.17) scale(0.9 1)" font-size="7" letter-spacing="0.48" text-anchor="middle">and Truck</text>
<text transform="translate(472.34 564.17) scale(0.9 1)" font-size="7" letter-spacing="0.48" text-anchor="middle">Availability</text>
<rect x="554.5" y="528.5" width="52.25" height="48.25" fill="#fff" stroke="#1d1d22" stroke-width="1.5"/>
<text transform="translate(580.84 546.54) scale(0.9 1)" font-size="7" letter-spacing="0.48" text-anchor="middle">Transportation</text>
<text transform="translate(580.84 555.54) scale(0.9 1)" font-size="7" letter-spacing="0.48" text-anchor="middle">Terminal</text>
<text transform="translate(580.84 564.54) scale(0.9 1)" font-size="7" letter-spacing="0.48" text-anchor="middle">Facilities</text>
<rect x="621.25" y="528.5" width="50.5" height="48.5" fill="#fff" stroke="#1d1d22" stroke-width="1.5"/>
<text transform="translate(646.72 546.67) scale(0.9 1)" font-size="7" letter-spacing="0.48" text-anchor="middle">Highway</text>
<text transform="translate(646.72 555.67) scale(0.9 1)" font-size="7" letter-spacing="0.48" text-anchor="middle">Facilities and</text>
<text transform="translate(646.72 564.67) scale(0.9 1)" font-size="7" letter-spacing="0.48" text-anchor="middle">Service Levels</text>
<rect x="686.75" y="529.25" width="49" height="47.75" fill="#fff" stroke="#1d1d22" stroke-width="1.5"/>
<text transform="translate(711.47 547.04) scale(0.9 1)" font-size="7" letter-spacing="0.48" text-anchor="middle">Transit</text>
<text transform="translate(711.47 556.04) scale(0.9 1)" font-size="7" letter-spacing="0.48" text-anchor="middle">Facilities and</text>
<text transform="translate(711.47 565.04) scale(0.9 1)" font-size="7" letter-spacing="0.48" text-anchor="middle">Service Levels</text>
<rect x="1162.5" y="530.5" width="49.25" height="47.75" fill="#fff" stroke="#1d1d22" stroke-width="1.5"/>
<text transform="translate(1187.34 543.79) scale(0.9 1)" font-size="7" letter-spacing="0.48" text-anchor="middle">Inventory of</text>
<text transform="translate(1187.34 552.79) scale(0.9 1)" font-size="7" letter-spacing="0.48" text-anchor="middle">Regional</text>
<text transform="translate(1187.34 561.79) scale(0.9 1)" font-size="7" letter-spacing="0.48" text-anchor="middle">Population</text>
<text transform="translate(1187.34 570.79) scale(0.9 1)" font-size="7" letter-spacing="0.48" text-anchor="middle">Factors</text>
<rect x="1227.25" y="530.5" width="50.25" height="47.75" fill="#fff" stroke="#1d1d22" stroke-width="1.5"/>
<text transform="translate(1252.59 548.29) scale(0.9 1)" font-size="7" letter-spacing="0.48" text-anchor="middle">Current</text>
<text transform="translate(1252.59 557.29) scale(0.9 1)" font-size="7" letter-spacing="0.48" text-anchor="middle">Employment</text>
<text transform="translate(1252.59 566.29) scale(0.9 1)" font-size="7" letter-spacing="0.48" text-anchor="middle">Estimates</text>
<rect x="1293.25" y="530.5" width="48.25" height="47.75" fill="#fff" stroke="#1d1d22" stroke-width="1.5"/>
<text transform="translate(1317.59 548.29) scale(0.9 1)" font-size="7" letter-spacing="0.48" text-anchor="middle">Current</text>
<text transform="translate(1317.59 557.29) scale(0.9 1)" font-size="7" letter-spacing="0.48" text-anchor="middle">Population</text>
<text transform="translate(1317.59 566.29) scale(0.9 1)" font-size="7" letter-spacing="0.48" text-anchor="middle">Estimates</text>
<rect x="1358.75" y="530.5" width="49" height="47.75" fill="#fff" stroke="#1d1d22" stroke-width="1.5"/>
<text transform="translate(1383.46 543.79) scale(0.9 1)" font-size="7" letter-spacing="0.48" text-anchor="middle">Inventory of</text>
<text transform="translate(1383.46 552.79) scale(0.9 1)" font-size="7" letter-spacing="0.48" text-anchor="middle">Regional</text>
<text transform="translate(1383.46 561.79) scale(0.9 1)" font-size="7" letter-spacing="0.48" text-anchor="middle">Economic</text>
<text transform="translate(1383.46 570.79) scale(0.9 1)" font-size="7" letter-spacing="0.48" text-anchor="middle">Factors</text>
<rect x="447.25" y="633" width="49.75" height="49.5" fill="#fff" stroke="#1d1d22" stroke-width="1.5"/>
<text transform="translate(472.34 651.67) scale(0.9 1)" font-size="7" letter-spacing="0.48" text-anchor="middle">Automobile</text>
<text transform="translate(472.34 660.67) scale(0.9 1)" font-size="7" letter-spacing="0.48" text-anchor="middle">and Truck</text>
<text transform="translate(472.34 669.67) scale(0.9 1)" font-size="7" letter-spacing="0.48" text-anchor="middle">Analysis</text>
<rect x="513.25" y="633.5" width="49.25" height="49" fill="#fff" stroke="#1d1d22" stroke-width="1.5"/>
<text transform="translate(538.09 651.92) scale(0.9 1)" font-size="7" letter-spacing="0.48" text-anchor="middle">Travel</text>
<text transform="translate(538.09 660.92) scale(0.9 1)" font-size="7" letter-spacing="0.48" text-anchor="middle">Demand</text>
<text transform="translate(538.09 669.92) scale(0.9 1)" font-size="7" letter-spacing="0.48" text-anchor="middle">Analysis</text>
<rect x="857.5" y="634.5" width="64.5" height="49.25" fill="#fff" stroke="#1d1d22" stroke-width="1.5"/>
<text transform="translate(889.97 657.54) scale(0.9 1)" font-size="7" letter-spacing="0.48" text-anchor="middle">Public Financial</text>
<text transform="translate(889.97 666.54) scale(0.9 1)" font-size="7" letter-spacing="0.48" text-anchor="middle">Resource Analysis</text>
<rect x="1030.75" y="634.5" width="48.75" height="49.25" fill="#fff" stroke="#1d1d22" stroke-width="1.5"/>
<text transform="translate(1055.34 657.54) scale(0.9 1)" font-size="7" letter-spacing="0.48" text-anchor="middle">Land Use</text>
<text transform="translate(1055.34 666.54) scale(0.9 1)" font-size="7" letter-spacing="0.48" text-anchor="middle">Analysis</text>
<rect x="1194.25" y="634.5" width="49" height="49.75" fill="#fff" stroke="#1d1d22" stroke-width="1.5"/>
<text transform="translate(1218.96 657.79) scale(0.9 1)" font-size="7" letter-spacing="0.48" text-anchor="middle">Demographic</text>
<text transform="translate(1218.96 666.79) scale(0.9 1)" font-size="7" letter-spacing="0.48" text-anchor="middle">Analysis</text>
<rect x="1326.5" y="634.5" width="49.25" height="49.75" fill="#fff" stroke="#1d1d22" stroke-width="1.5"/>
<text transform="translate(1351.34 657.79) scale(0.9 1)" font-size="7" letter-spacing="0.48" text-anchor="middle">Economic</text>
<text transform="translate(1351.34 666.79) scale(0.9 1)" font-size="7" letter-spacing="0.48" text-anchor="middle">Analysis</text>
<rect x="598.25" y="721.25" width="48.75" height="50.5" fill="#fff" stroke="#1d1d22" stroke-width="1.5"/>
<text transform="translate(622.84 740.42) scale(0.9 1)" font-size="7" letter-spacing="0.48" text-anchor="middle">Traffic</text>
<text transform="translate(622.84 749.42) scale(0.9 1)" font-size="7" letter-spacing="0.48" text-anchor="middle">Simulation</text>
<text transform="translate(622.84 758.42) scale(0.9 1)" font-size="7" letter-spacing="0.48" text-anchor="middle">Model</text>
<rect x="1137" y="723" width="49.25" height="49.5" fill="#fff" stroke="#1d1d22" stroke-width="1.5"/>
<text transform="translate(1161.84 737.17) scale(0.9 1)" font-size="7" letter-spacing="0.48" text-anchor="middle">Regional</text>
<text transform="translate(1161.84 746.17) scale(0.9 1)" font-size="7" letter-spacing="0.48" text-anchor="middle">Demographic</text>
<text transform="translate(1161.84 755.17) scale(0.9 1)" font-size="7" letter-spacing="0.48" text-anchor="middle">Simulation</text>
<text transform="translate(1161.84 764.17) scale(0.9 1)" font-size="7" letter-spacing="0.48" text-anchor="middle">Model</text>
<rect x="446.75" y="828.75" width="50" height="49.25" fill="#fff" stroke="#1d1d22" stroke-width="1.5"/>
<text transform="translate(471.96 847.29) scale(0.9 1)" font-size="7" letter-spacing="0.48" text-anchor="middle">Automobile</text>
<text transform="translate(471.96 856.29) scale(0.9 1)" font-size="7" letter-spacing="0.48" text-anchor="middle">and Truck</text>
<text transform="translate(471.96 865.29) scale(0.9 1)" font-size="7" letter-spacing="0.48" text-anchor="middle">Forecast</text>
<rect x="513" y="829.25" width="49" height="48.75" fill="#fff" stroke="#1d1d22" stroke-width="1.5"/>
<text transform="translate(537.72 847.54) scale(0.9 1)" font-size="7" letter-spacing="0.48" text-anchor="middle">Travel</text>
<text transform="translate(537.72 856.54) scale(0.9 1)" font-size="7" letter-spacing="0.48" text-anchor="middle">Demand</text>
<text transform="translate(537.72 865.54) scale(0.9 1)" font-size="7" letter-spacing="0.48" text-anchor="middle">Forecast</text>
<rect x="857" y="829.5" width="65.5" height="49.25" fill="#fff" stroke="#1d1d22" stroke-width="1.5"/>
<text transform="translate(889.97 852.54) scale(0.9 1)" font-size="7" letter-spacing="0.48" text-anchor="middle">Public Financial</text>
<text transform="translate(889.97 861.54) scale(0.9 1)" font-size="7" letter-spacing="0.48" text-anchor="middle">Resource Forecast</text>
<rect x="1030" y="830.5" width="51" height="49" fill="#fff" stroke="#1d1d22" stroke-width="1.5"/>
<text transform="translate(1055.71 848.92) scale(0.9 1)" font-size="7" letter-spacing="0.48" text-anchor="middle">Land Use</text>
<text transform="translate(1055.71 857.92) scale(0.9 1)" font-size="7" letter-spacing="0.48" text-anchor="middle">Demand</text>
<text transform="translate(1055.71 866.92) scale(0.9 1)" font-size="7" letter-spacing="0.48" text-anchor="middle">Forecast</text>
<rect x="1193.75" y="830.75" width="50.75" height="48.75" fill="#fff" stroke="#1d1d22" stroke-width="1.5"/>
<text transform="translate(1219.34 853.54) scale(0.9 1)" font-size="7" letter-spacing="0.48" text-anchor="middle">Population</text>
<text transform="translate(1219.34 862.54) scale(0.9 1)" font-size="7" letter-spacing="0.48" text-anchor="middle">Forecast</text>
<rect x="1326.25" y="830.75" width="49.5" height="48.75" fill="#fff" stroke="#1d1d22" stroke-width="1.5"/>
<text transform="translate(1351.21 853.54) scale(0.9 1)" font-size="7" letter-spacing="0.48" text-anchor="middle">Employment</text>
<text transform="translate(1351.21 862.54) scale(0.9 1)" font-size="7" letter-spacing="0.48" text-anchor="middle">Forecast</text>
<rect x="743.8" y="944.5" width="97.6" height="48.6" fill="#fff" stroke="#1d1d22" stroke-width="1.5"/>
<text transform="translate(792.81 962.72) scale(0.9 1)" font-size="7" letter-spacing="0.48" text-anchor="middle">Regional Transportation</text>
<text transform="translate(792.81 971.72) scale(0.9 1)" font-size="7" letter-spacing="0.48" text-anchor="middle">Plan Reevaluation</text>
<text transform="translate(792.81 980.72) scale(0.9 1)" font-size="7" letter-spacing="0.48" text-anchor="middle">and Redesign</text>
<rect x="938.75" y="945" width="98.25" height="49.25" fill="#fff" stroke="#1d1d22" stroke-width="1.5"/>
<text transform="translate(988.09 963.54) scale(0.9 1)" font-size="7" letter-spacing="0.48" text-anchor="middle">Regional Land Use</text>
<text transform="translate(988.09 972.54) scale(0.9 1)" font-size="7" letter-spacing="0.48" text-anchor="middle">Plan Reevaluation</text>
<text transform="translate(988.09 981.54) scale(0.9 1)" font-size="7" letter-spacing="0.48" text-anchor="middle">and Redesign</text>
<rect x="532.5" y="1018" width="97.75" height="50.25" fill="#fff" stroke="#1d1d22" stroke-width="1.5"/>
<text transform="translate(581.59 1041.55) scale(0.9 1)" font-size="7" letter-spacing="0.48" text-anchor="middle">Citizens Advisory</text>
<text transform="translate(581.59 1050.55) scale(0.9 1)" font-size="7" letter-spacing="0.48" text-anchor="middle">Committee Review</text>
<rect x="646.75" y="1018.75" width="97.75" height="49.5" fill="#fff" stroke="#1d1d22" stroke-width="1.5"/>
<text transform="translate(695.84 1030.02) scale(0.9 1)" font-size="7" letter-spacing="0.48" text-anchor="middle">Staff and Technical</text>
<text transform="translate(695.84 1038.22) scale(0.9 1)" font-size="7" letter-spacing="0.48" text-anchor="middle">Advisory Committee</text>
<text transform="translate(695.84 1046.42) scale(0.9 1)" font-size="7" letter-spacing="0.48" text-anchor="middle">Review, Public Hearings,</text>
<text transform="translate(695.84 1054.62) scale(0.9 1)" font-size="7" letter-spacing="0.48" text-anchor="middle">Intergovernmental Committee</text>
<text transform="translate(695.84 1062.82) scale(0.9 1)" font-size="7" letter-spacing="0.48" text-anchor="middle">and Commission Review</text>
<rect x="842" y="1018.75" width="97.25" height="49.5" fill="#fff" stroke="#1d1d22" stroke-width="1.5"/>
<text transform="translate(890.84 1037.42) scale(0.9 1)" font-size="7" letter-spacing="0.48" text-anchor="middle">Plan Test</text>
<text transform="translate(890.84 1046.42) scale(0.9 1)" font-size="7" letter-spacing="0.48" text-anchor="middle">and</text>
<text transform="translate(890.84 1055.42) scale(0.9 1)" font-size="7" letter-spacing="0.48" text-anchor="middle">Evaluation</text>
<rect x="840.75" y="1085.5" width="97.5" height="42.5" fill="#fff" stroke="#1d1d22" stroke-width="1.5"/>
<text transform="translate(889.72 1100.67) scale(0.9 1)" font-size="7" letter-spacing="0.48" text-anchor="middle">Plan</text>
<text transform="translate(889.72 1109.67) scale(0.9 1)" font-size="7" letter-spacing="0.48" text-anchor="middle">Selection and</text>
<text transform="translate(889.72 1118.67) scale(0.9 1)" font-size="7" letter-spacing="0.48" text-anchor="middle">Adoption</text>
<rect x="807.5" y="1158" width="72.5" height="47.5" fill="#fff" stroke="#1d1d22" stroke-width="1.5"/>
<text transform="translate(843.97 1171.17) scale(0.9 1)" font-size="7" letter-spacing="0.48" text-anchor="middle">Extension</text>
<text transform="translate(843.97 1180.17) scale(0.9 1)" font-size="7" letter-spacing="0.48" text-anchor="middle">of Planning</text>
<text transform="translate(843.97 1189.17) scale(0.9 1)" font-size="7" letter-spacing="0.48" text-anchor="middle">and Engineering</text>
<text transform="translate(843.97 1198.17) scale(0.9 1)" font-size="7" letter-spacing="0.48" text-anchor="middle">Data</text>
<rect x="896.5" y="1158" width="73.5" height="47.5" fill="#fff" stroke="#1d1d22" stroke-width="1.5"/>
<text transform="translate(933.47 1171.17) scale(0.9 1)" font-size="7" letter-spacing="0.48" text-anchor="middle">Transit Development</text>
<text transform="translate(933.47 1180.17) scale(0.9 1)" font-size="7" letter-spacing="0.48" text-anchor="middle">and Other</text>
<text transform="translate(933.47 1189.17) scale(0.9 1)" font-size="7" letter-spacing="0.48" text-anchor="middle">Special Transit</text>
<text transform="translate(933.47 1198.17) scale(0.9 1)" font-size="7" letter-spacing="0.48" text-anchor="middle">Programs</text>
<rect x="985.5" y="1158" width="74.2" height="47.5" fill="#fff" stroke="#1d1d22" stroke-width="1.5"/>
<text transform="translate(1022.82 1171.17) scale(0.9 1)" font-size="7" letter-spacing="0.48" text-anchor="middle">Jurisdictional</text>
<text transform="translate(1022.82 1180.17) scale(0.9 1)" font-size="7" letter-spacing="0.48" text-anchor="middle">Highway</text>
<text transform="translate(1022.82 1189.17) scale(0.9 1)" font-size="7" letter-spacing="0.48" text-anchor="middle">Planning</text>
<text transform="translate(1022.82 1198.17) scale(0.9 1)" font-size="7" letter-spacing="0.48" text-anchor="middle">Programs</text>
<rect x="1075.8" y="1158.9" width="75.8" height="47.1" fill="#fff" stroke="#1d1d22" stroke-width="1.5"/>
<text transform="translate(1113.91 1171.87) scale(0.9 1)" font-size="7" letter-spacing="0.48" text-anchor="middle">Highway Corridor</text>
<text transform="translate(1113.91 1180.87) scale(0.9 1)" font-size="7" letter-spacing="0.48" text-anchor="middle">Refinement and</text>
<text transform="translate(1113.91 1189.87) scale(0.9 1)" font-size="7" letter-spacing="0.48" text-anchor="middle">Centerline Location</text>
<text transform="translate(1113.91 1198.87) scale(0.9 1)" font-size="7" letter-spacing="0.48" text-anchor="middle">Studies</text>
<rect x="743.25" y="1230.75" width="96.75" height="48.5" fill="#fff" stroke="#1d1d22" stroke-width="1.5"/>
<text transform="translate(791.84 1244.42) scale(0.9 1)" font-size="7" letter-spacing="0.48" text-anchor="middle">Other State, Regional,</text>
<text transform="translate(791.84 1253.42) scale(0.9 1)" font-size="7" letter-spacing="0.48" text-anchor="middle">Subregional, District, and</text>
<text transform="translate(791.84 1262.42) scale(0.9 1)" font-size="7" letter-spacing="0.48" text-anchor="middle">Neighborhood</text>
<text transform="translate(791.84 1271.42) scale(0.9 1)" font-size="7" letter-spacing="0.48" text-anchor="middle">Planning Programs</text>
<circle cx="460.75" cy="610.75" r="8.4" fill="#fff" stroke="#1d1d22" stroke-width="1.7"/>
<text x="460.75" y="613.05" font-size="6.4" text-anchor="middle" style="stroke-width:0.08px">B</text>
<circle cx="485.75" cy="610.75" r="8.4" fill="#fff" stroke="#1d1d22" stroke-width="1.7"/>
<text x="485.75" y="613.05" font-size="6.4" text-anchor="middle" style="stroke-width:0.08px">E</text>
<circle cx="525.5" cy="611.5" r="8.4" fill="#fff" stroke="#1d1d22" stroke-width="1.7"/>
<text x="525.5" y="613.8" font-size="6.4" text-anchor="middle" style="stroke-width:0.08px">B</text>
<circle cx="697.8" cy="628" r="8.4" fill="#fff" stroke="#1d1d22" stroke-width="1.7"/>
<text x="697.8" y="630.3" font-size="6.4" text-anchor="middle" style="stroke-width:0.08px">A</text>
<circle cx="723.8" cy="628.3" r="8.4" fill="#fff" stroke="#1d1d22" stroke-width="1.7"/>
<text x="723.8" y="630.6" font-size="6.4" text-anchor="middle" style="stroke-width:0.08px">E</text>
<circle cx="829.5" cy="538" r="8.4" fill="#fff" stroke="#1d1d22" stroke-width="1.7"/>
<text x="829.5" y="540.3" font-size="6.4" text-anchor="middle" style="stroke-width:0.08px">A</text>
<circle cx="908.25" cy="540" r="8.4" fill="#fff" stroke="#1d1d22" stroke-width="1.7"/>
<text x="908.25" y="542.3" font-size="6.4" text-anchor="middle" style="stroke-width:0.08px">A</text>
<circle cx="1013.75" cy="540" r="8.4" fill="#fff" stroke="#1d1d22" stroke-width="1.7"/>
<text x="1013.75" y="542.3" font-size="6.4" text-anchor="middle" style="stroke-width:0.08px">A</text>
<circle cx="1286.25" cy="625" r="8.4" fill="#fff" stroke="#1d1d22" stroke-width="1.7"/>
<text x="1286.25" y="627.3" font-size="6.4" text-anchor="middle" style="stroke-width:0.08px">A</text>
<circle cx="1068.75" cy="718" r="8.4" fill="#fff" stroke="#1d1d22" stroke-width="1.7"/>
<text x="1068.75" y="720.3" font-size="6.4" text-anchor="middle" style="stroke-width:0.08px">B</text>
<circle cx="1162.5" cy="700" r="8.4" fill="#fff" stroke="#1d1d22" stroke-width="1.7"/>
<text x="1162.5" y="702.3" font-size="6.4" text-anchor="middle" style="stroke-width:0.08px">D</text>
<circle cx="1286.25" cy="740.5" r="8.4" fill="#fff" stroke="#1d1d22" stroke-width="1.7"/>
<text x="1286.25" y="742.8" font-size="6.4" text-anchor="middle" style="stroke-width:0.08px">B</text>
<circle cx="460.5" cy="794.25" r="8.4" fill="#fff" stroke="#1d1d22" stroke-width="1.7"/>
<text x="460.5" y="796.55" font-size="6.4" text-anchor="middle" style="stroke-width:0.08px">C</text>
<circle cx="485.5" cy="795" r="8.4" fill="#fff" stroke="#1d1d22" stroke-width="1.7"/>
<text x="485.5" y="797.3" font-size="6.4" text-anchor="middle" style="stroke-width:0.08px">D</text>
<circle cx="525" cy="793.5" r="8.4" fill="#fff" stroke="#1d1d22" stroke-width="1.7"/>
<text x="525" y="795.8" font-size="6.4" text-anchor="middle" style="stroke-width:0.08px">D</text>
<circle cx="550" cy="793" r="8.4" fill="#fff" stroke="#1d1d22" stroke-width="1.7"/>
<text x="550" y="795.3" font-size="6.4" text-anchor="middle" style="stroke-width:0.08px">C</text>
<circle cx="473.5" cy="924.5" r="8.4" fill="#fff" stroke="#1d1d22" stroke-width="1.7"/>
<text x="473.5" y="926.8" font-size="6.4" text-anchor="middle" style="stroke-width:0.08px">A</text>
<circle cx="1068.75" cy="922" r="8.4" fill="#fff" stroke="#1d1d22" stroke-width="1.7"/>
<text x="1068.75" y="924.3" font-size="6.4" text-anchor="middle" style="stroke-width:0.08px">C</text>
<circle cx="1233" cy="922.5" r="8.4" fill="#fff" stroke="#1d1d22" stroke-width="1.7"/>
<text x="1233" y="924.8" font-size="6.4" text-anchor="middle" style="stroke-width:0.08px">D</text>
<circle cx="1350.5" cy="922" r="8.4" fill="#fff" stroke="#1d1d22" stroke-width="1.7"/>
<text x="1350.5" y="924.3" font-size="6.4" text-anchor="middle" style="stroke-width:0.08px">D</text>
<circle cx="1031.75" cy="1112.5" r="8.4" fill="#fff" stroke="#1d1d22" stroke-width="1.7"/>
<text x="1031.75" y="1114.8" font-size="6.4" text-anchor="middle" style="stroke-width:0.08px">A</text>
<text x="279.5" y="1288.8" class="ns" font-size="17.5" font-style="italic" textLength="59" lengthAdjust="spacingAndGlyphs">Source:</text>
<text x="351.3" y="1288.8" class="ns" font-size="17.5" font-style="italic" textLength="76" lengthAdjust="spacingAndGlyphs">SEWRPC.</text>
<rect x="38" y="1344.2" width="51" height="19.8" fill="#050505"/>
<rect x="38" y="1354.3" width="51" height="0.8" fill="#3a1414"/>
<rect x="38" y="1356.2" width="51" height="4.4" fill="#18222a"/>
<rect x="38" y="1360" width="51" height="1" fill="#3e4c52"/>
<rect x="129.7" y="1344.2" width="51" height="19.8" fill="#050505"/>
<rect x="129.7" y="1354.3" width="51" height="0.8" fill="#3a1414"/>
<rect x="129.7" y="1356.2" width="51" height="4.4" fill="#18222a"/>
<rect x="129.7" y="1360" width="51" height="1" fill="#3e4c52"/>
<rect x="221.4" y="1344.2" width="51" height="19.8" fill="#050505"/>
<rect x="221.4" y="1354.3" width="51" height="0.8" fill="#3a1414"/>
<rect x="221.4" y="1356.2" width="51" height="4.4" fill="#18222a"/>
<rect x="221.4" y="1360" width="51" height="1" fill="#3e4c52"/>
<rect x="313.1" y="1344.2" width="51" height="19.8" fill="#050505"/>
<rect x="313.1" y="1354.3" width="51" height="0.8" fill="#3a1414"/>
<rect x="313.1" y="1356.2" width="51" height="4.4" fill="#18222a"/>
<rect x="313.1" y="1360" width="51" height="1" fill="#3e4c52"/>
<rect x="404.8" y="1344.2" width="51" height="19.8" fill="#050505"/>
<rect x="404.8" y="1354.3" width="51" height="0.8" fill="#3a1414"/>
<rect x="404.8" y="1356.2" width="51" height="4.4" fill="#18222a"/>
<rect x="404.8" y="1360" width="51" height="1" fill="#3e4c52"/>
<rect x="496.5" y="1344.2" width="51" height="19.8" fill="#050505"/>
<rect x="496.5" y="1354.3" width="51" height="0.8" fill="#3a1414"/>
<rect x="496.5" y="1356.2" width="51" height="4.4" fill="#18222a"/>
<rect x="496.5" y="1360" width="51" height="1" fill="#3e4c52"/>
<rect x="588.2" y="1344.2" width="51" height="19.8" fill="#050505"/>
<rect x="588.2" y="1354.3" width="51" height="0.8" fill="#3a1414"/>
<rect x="588.2" y="1356.2" width="51" height="4.4" fill="#18222a"/>
<rect x="588.2" y="1360" width="51" height="1" fill="#3e4c52"/>
<rect x="679.9" y="1344.2" width="51" height="19.8" fill="#050505"/>
<rect x="679.9" y="1354.3" width="51" height="0.8" fill="#3a1414"/>
<rect x="679.9" y="1356.2" width="51" height="4.4" fill="#18222a"/>
<rect x="679.9" y="1360" width="51" height="1" fill="#3e4c52"/>
<rect x="771.6" y="1344.2" width="51" height="19.8" fill="#050505"/>
<rect x="771.6" y="1354.3" width="51" height="0.8" fill="#3a1414"/>
<rect x="771.6" y="1356.2" width="51" height="4.4" fill="#18222a"/>
<rect x="771.6" y="1360" width="51" height="1" fill="#3e4c52"/>
<rect x="863.3" y="1344.2" width="51" height="19.8" fill="#050505"/>
<rect x="863.3" y="1354.3" width="51" height="0.8" fill="#3a1414"/>
<rect x="863.3" y="1356.2" width="51" height="4.4" fill="#18222a"/>
<rect x="863.3" y="1360" width="51" height="1" fill="#3e4c52"/>
<rect x="955" y="1344.2" width="51" height="19.8" fill="#050505"/>
<rect x="955" y="1354.3" width="51" height="0.8" fill="#3a1414"/>
<rect x="955" y="1356.2" width="51" height="4.4" fill="#18222a"/>
<rect x="955" y="1360" width="51" height="1" fill="#3e4c52"/>
<rect x="1046.7" y="1344.2" width="51" height="19.8" fill="#050505"/>
<rect x="1046.7" y="1354.3" width="51" height="0.8" fill="#3a1414"/>
<rect x="1046.7" y="1356.2" width="51" height="4.4" fill="#18222a"/>
<rect x="1046.7" y="1360" width="51" height="1" fill="#3e4c52"/>
<rect x="1138.4" y="1344.2" width="51" height="19.8" fill="#050505"/>
<rect x="1138.4" y="1354.3" width="51" height="0.8" fill="#3a1414"/>
<rect x="1138.4" y="1356.2" width="51" height="4.4" fill="#18222a"/>
<rect x="1138.4" y="1360" width="51" height="1" fill="#3e4c52"/>
<rect x="1230.1" y="1344.2" width="51" height="19.8" fill="#050505"/>
<rect x="1230.1" y="1354.3" width="51" height="0.8" fill="#3a1414"/>
<rect x="1230.1" y="1356.2" width="51" height="4.4" fill="#18222a"/>
<rect x="1230.1" y="1360" width="51" height="1" fill="#3e4c52"/>
<rect x="1321.8" y="1344.2" width="51" height="19.8" fill="#050505"/>
<rect x="1321.8" y="1354.3" width="51" height="0.8" fill="#3a1414"/>
<rect x="1321.8" y="1356.2" width="51" height="4.4" fill="#18222a"/>
<rect x="1321.8" y="1360" width="51" height="1" fill="#3e4c52"/>
<rect x="1413.5" y="1344.2" width="51" height="19.8" fill="#050505"/>
<rect x="1413.5" y="1354.3" width="51" height="0.8" fill="#3a1414"/>
<rect x="1413.5" y="1356.2" width="51" height="4.4" fill="#18222a"/>
<rect x="1413.5" y="1360" width="51" height="1" fill="#3e4c52"/>
<rect x="1505.2" y="1344.2" width="51" height="19.8" fill="#050505"/>
<rect x="1505.2" y="1354.3" width="51" height="0.8" fill="#3a1414"/>
<rect x="1505.2" y="1356.2" width="51" height="4.4" fill="#18222a"/>
<rect x="1505.2" y="1360" width="51" height="1" fill="#3e4c52"/>
<rect x="1596.9" y="1344.2" width="51" height="19.8" fill="#050505"/>
<rect x="1596.9" y="1354.3" width="51" height="0.8" fill="#3a1414"/>
<rect x="1596.9" y="1356.2" width="51" height="4.4" fill="#18222a"/>
<rect x="1596.9" y="1360" width="51" height="1" fill="#3e4c52"/>
<rect x="1688.6" y="1344.2" width="51" height="19.8" fill="#050505"/>
<rect x="1688.6" y="1354.3" width="51" height="0.8" fill="#3a1414"/>
<rect x="1688.6" y="1356.2" width="51" height="4.4" fill="#18222a"/>
<rect x="1688.6" y="1360" width="51" height="1" fill="#3e4c52"/>
</svg>
</body></html>
